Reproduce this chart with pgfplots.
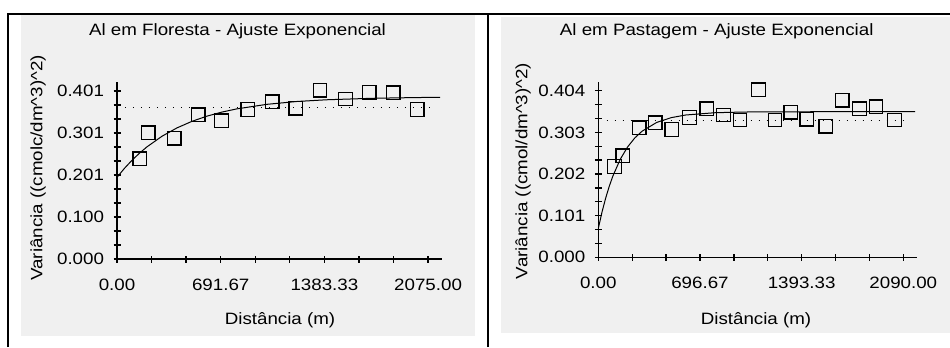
\documentclass[border=0pt]{standalone}
\usepackage{pgfplots}
\pgfplotsset{compat=1.18}
\usepackage{fontspec}
\setmainfont[FakeStretch=1.14]{Liberation Sans}
\definecolor{bgc}{RGB}{240,240,240}
\pgfplotstableread{
h v
153 0.239
209 0.301
382 0.288
542 0.344
698 0.330
872 0.357
1036 0.375
1192 0.360
1354 0.403
1525 0.382
1683 0.398
1843 0.397
2003 0.357
}\florpts
\pgfplotstableread{
h v
0 0.1950
50 0.2165
100 0.2357
150 0.2526
200 0.2677
300 0.2930
400 0.3129
500 0.3286
600 0.3410
700 0.3507
800 0.3584
1000 0.3692
1200 0.3760
1400 0.3801
1700 0.3836
2000 0.3854
2155 0.3859
}\florfit
\pgfplotstableread{
h v
110 0.220
167 0.246
281 0.314
389 0.326
503 0.310
624 0.339
743 0.360
857 0.345
971 0.333
1097 0.406
1211 0.333
1319 0.352
1428 0.335
1558 0.318
1672 0.381
1789 0.360
1903 0.365
2029 0.333
}\pastpts
\pgfplotstableread{
h v
0 0.0700
25 0.1092
50 0.1430
75 0.1722
100 0.1972
150 0.2374
200 0.2673
250 0.2894
300 0.3058
400 0.3270
500 0.3387
600 0.3451
800 0.3506
1000 0.3523
1500 0.3530
2171 0.3530
}\pastfit
\pgfplotsset{
  gsstyle/.style={
    scale only axis, anchor=south west, clip=false,
    axis lines=left, axis line style={-, black, line width=1.3bp},
    tick align=center, major tick length=7bp, minor tick length=7bp,
    every tick/.style={black, line width=1.3bp},
    xmin=0, ymin=0,
    tick label style={font=\fontsize{16.5}{18}\selectfont},
    yticklabel style={anchor=east, xshift=-6bp},
    xticklabel style={anchor=north, yshift=-13bp},
  },
  sq/.style={only marks, mark=square, mark size=6.8bp, mark options={line width=1.3bp, black, fill=none}},
}
\begin{document}
\begin{tikzpicture}[x=1bp,y=1bp]
\useasboundingbox (0,0) rectangle (950,347);
\fill[bgc] (20.5,11.3) rectangle (475,332);
\fill[bgc] (501,14) rectangle (950,330);
\draw[line width=2bp] (8,0) -- (8,333) -- (950,333);
\draw[line width=2bp] (488,0) -- (488,333);

\begin{axis}[gsstyle, at={(117bp,88bp)}, width=325bp, height=177bp,
  xmax=2168, ymax=0.4225,
  xtick={0,691.67,1383.33,2075}, xticklabels={0.00,691.67,1383.33,2075.00},
  minor xtick={230.56,461.11,922.22,1152.78,1613.89,1844.44},
  ytick={0,0.10025,0.2005,0.30075,0.401}, yticklabels={0.000,0.100,0.201,0.301,0.401},
  minor ytick={0.0334,0.0668,0.1337,0.1671,0.2339,0.2673,0.3342,0.3676}]
\addplot[black, line width=1.2bp, dash pattern=on 1.5bp off 6.5bp] coordinates {(53,0.362) (2121,0.362)};
\addplot[black, line width=1bp] table[x=h,y=v] {\florfit};
\addplot[sq] table[x=h,y=v] {\florpts};
\end{axis}

\begin{axis}[gsstyle, at={(598.3bp,89.7bp)}, width=318.4bp, height=175.6bp,
  xmax=2182, ymax=0.4258,
  xtick={0,696.67,1393.33,2090}, xticklabels={0.00,696.67,1393.33,2090.00},
  minor xtick={232.22,464.44,928.89,1161.11,1625.56,1857.78},
  ytick={0,0.101,0.202,0.303,0.404}, yticklabels={0.000,0.101,0.202,0.303,0.404},
  minor ytick={0.0337,0.0673,0.1347,0.1683,0.2357,0.2693,0.3367,0.3703}]
\addplot[black, line width=1.2bp, dash pattern=on 1.5bp off 6.5bp] coordinates {(57,0.331) (2136,0.331)};
\addplot[black, line width=1bp] table[x=h,y=v] {\pastfit};
\addplot[sq] table[x=h,y=v] {\pastpts};
\end{axis}

\begin{scope}[every node/.style={font=\fontsize{16.5}{18}\selectfont, inner sep=0pt}]
\node at (237.5,316) {Al em Floresta - Ajuste Exponencial};
\node[rotate=90] at (38,179) {Variância ((cmolc/dm\textasciicircum 3)\textasciicircum 2)};
\node at (280,27) {Distância (m)};
\node at (716.7,316) {Al em Pastagem - Ajuste Exponencial};
\node[rotate=90] at (523,176) {Variância ((cmol/dm\textasciicircum 3)\textasciicircum 2)};
\node at (756,27) {Distância (m)};
\end{scope}
\end{tikzpicture}
\end{document}
